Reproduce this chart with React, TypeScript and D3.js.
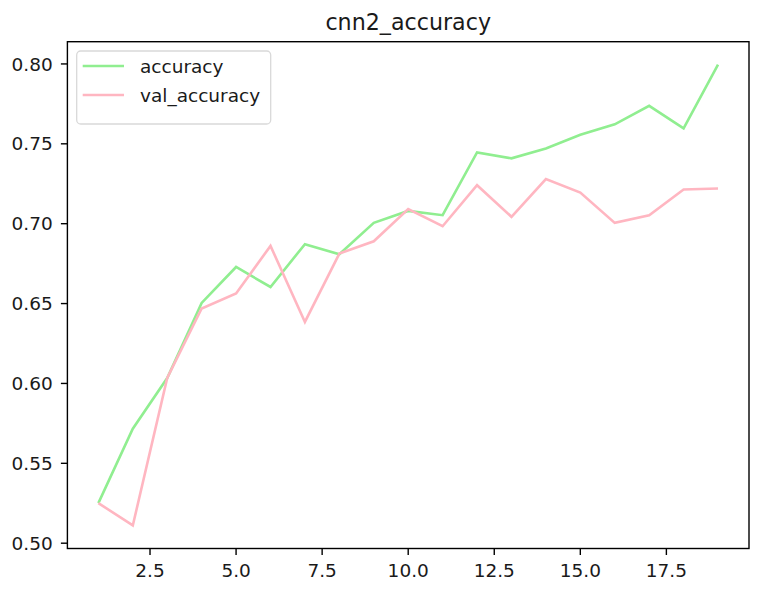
import React from "react";
import * as d3 from "d3";

const epochs = [1, 2, 3, 4, 5, 6, 7, 8, 9, 10, 11, 12, 13, 14, 15, 16, 17, 18, 19];
const accuracy = [0.5251, 0.5717, 0.6034, 0.6504, 0.6729, 0.6604, 0.6872, 0.6809, 0.7005, 0.7080, 0.7053, 0.7446, 0.7409, 0.7471, 0.7557, 0.7622, 0.7738, 0.7597, 0.7995];
const valAccuracy = [0.5251, 0.5111, 0.6034, 0.6469, 0.6563, 0.6861, 0.6385, 0.6813, 0.6890, 0.7091, 0.6984, 0.7241, 0.7043, 0.7279, 0.7195, 0.7005, 0.7053, 0.7214, 0.7220];
const xTicks = [2.5, 5.0, 7.5, 10.0, 12.5, 15.0, 17.5];
const yTicks = [0.5, 0.55, 0.6, 0.65, 0.7, 0.75, 0.8];
const seriesNames = ["accuracy", "val_accuracy"];
const seriesColors = ["#90EE90", "#FFB6C1"];
const title = "cnn2_accuracy";

const W = 761;
const H = 591;
const left = 67.4;
const right = 749;
const top = 41.7;
const bottom = 548.5;
const FONT = "DejaVu Sans, sans-serif";
const FS = 18.5;
const TFS = 22.2;
const LW = 2.6;
const SW = 1.4;

export default function App() {
  const xMin = d3.min(epochs)!;
  const xMax = d3.max(epochs)!;
  const xm = (xMax - xMin) * 0.05;
  const all = accuracy.concat(valAccuracy);
  const yMin = d3.min(all)!;
  const yMax = d3.max(all)!;
  const ym = (yMax - yMin) * 0.05;
  const x = d3.scaleLinear().domain([xMin - xm, xMax + xm]).range([left, right]);
  const y = d3.scaleLinear().domain([yMin - ym, yMax + ym]).range([bottom, top]);

  const line = d3
    .line<number>()
    .x((_, i) => x(epochs[i]))
    .y((d) => y(d));

  const series = [accuracy, valAccuracy];
  const tickLen = 6.5;

  return (
    <svg
      width={W}
      height={H}
      style={{ position: "absolute", left: 0, top: 0, background: "#fff" }}
      fontFamily={FONT}
    >
      <rect x={0} y={0} width={W} height={H} fill="#fff" />
      <text x={(left + right) / 2} y={29.5} textAnchor="middle" fontSize={TFS} fill="#1a1a1a">
        {title}
      </text>
      {series.map((s, i) => (
        <path
          key={i}
          d={line(s) || ""}
          fill="none"
          stroke={seriesColors[i]}
          strokeWidth={LW}
          strokeLinejoin="miter"
          strokeLinecap="butt"
        />
      ))}
      <rect
        x={left}
        y={top}
        width={right - left}
        height={bottom - top}
        fill="none"
        stroke="#000"
        strokeWidth={SW}
      />
      {xTicks.map((t) => (
        <g key={t} transform={`translate(${x(t)},${bottom})`}>
          <line y1={0} y2={tickLen} stroke="#000" strokeWidth={SW} />
          <text y={28.2} textAnchor="middle" fontSize={FS} fill="#1a1a1a">
            {t.toFixed(1)}
          </text>
        </g>
      ))}
      {yTicks.map((t) => (
        <g key={t} transform={`translate(${left},${y(t)})`}>
          <line x1={0} x2={-tickLen} stroke="#000" strokeWidth={SW} />
          <text x={-14.7} y={6.6} textAnchor="end" fontSize={FS} fill="#1a1a1a">
            {t.toFixed(2)}
          </text>
        </g>
      ))}
      <g>
        <rect
          x={76.7}
          y={51}
          width={194}
          height={73}
          rx={4}
          ry={4}
          fill="#fff"
          fillOpacity={0.8}
          stroke="#d9d9d9"
          strokeWidth={1.3}
        />
        {seriesNames.map((n, i) => (
          <g key={n} transform={`translate(0,${66 + i * 29})`}>
            <line x1={82.7} x2={124} y1={0} y2={0} stroke={seriesColors[i]} strokeWidth={LW} />
            <text x={140} y={7} fontSize={FS} fill="#1a1a1a">
              {n}
            </text>
          </g>
        ))}
      </g>
    </svg>
  );
}
